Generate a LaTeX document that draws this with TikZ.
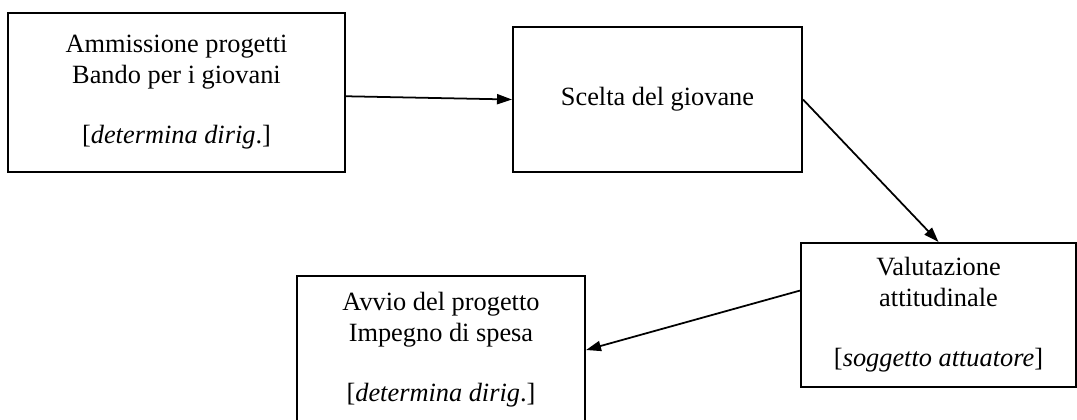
\documentclass[tikz,border=0pt]{standalone}
\usepackage{fontspec}
\setmainfont{Liberation Serif}
\usetikzlibrary{arrows.meta}

\begin{document}
\begin{tikzpicture}[x=0.016cm, y=-0.016cm,
		fase/.style={draw, line width=1pt, inner sep=0pt, align=center, font=\fontsize{12}{13.8}\selectfont},
		freccia/.style={line width=0.8pt, -{Triangle[length=6.8pt,width=4.6pt]}}]
		
		\useasboundingbox (0,0) rectangle (1077,419);
		
		\node[fase, minimum width=5.392cm, minimum height=2.544cm] (ammissione) at (176.5,92.5) {Ammissione progetti\\Bando per i giovani\\[\baselineskip]{[}\textit{determina dirig}.{]}};
		\node[fase, minimum width=4.624cm, minimum height=2.32cm] (scelta) at (657.5,99.5) {Scelta del giovane};
		\node[fase, minimum width=4.4cm, minimum height=2.304cm] (valutazione) at (938.5,315) {Valutazione\\attitudinale\\[\baselineskip]{[}\textit{soggetto attuatore}{]}};
		\node[fase, minimum width=4.608cm, minimum height=2.368cm] (avvio) at (441,350) {Avvio del progetto\\Impegno di spesa\\[\baselineskip]{[}\textit{determina dirig}.{]}};
		
		\draw[freccia] ([yshift=-0.06cm]ammissione.east) -- (scelta.west);
		\draw[freccia] (scelta.east) -- (valutazione.north);
		\draw[freccia] (valutazione.170) -- (avvio.east);
		
	\end{tikzpicture}
\end{document}
